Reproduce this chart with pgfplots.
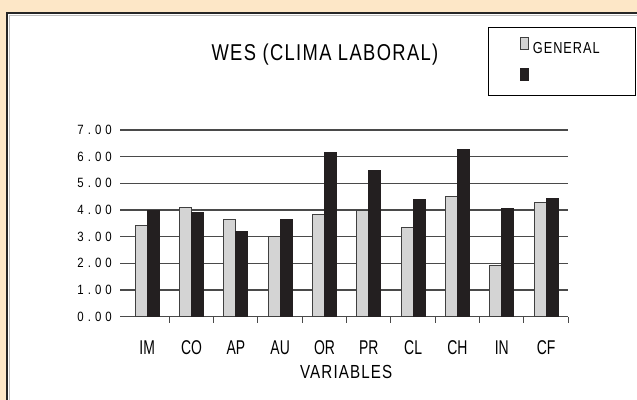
\documentclass[border=0pt]{standalone}
\usepackage{fontspec}
\setmainfont{Liberation Sans}
\newfontfamily\condfont[FakeStretch=0.7]{Liberation Sans}
\newfontfamily\titlefont[FakeStretch=0.8,LetterSpace=6]{Liberation Sans}
\newfontfamily\yfont[FakeStretch=0.85,LetterSpace=30]{Liberation Sans}
\usepackage{pgfplots}
\pgfplotsset{compat=1.18}
\definecolor{peach}{HTML}{FDE7C7}
\definecolor{barlight}{HTML}{D4D4D4}
\definecolor{bardark}{HTML}{231F20}
\definecolor{gridc}{HTML}{4A4A4A}
\begin{document}
\begin{tikzpicture}
\useasboundingbox (0,0) rectangle (637bp,-400bp);
\fill[peach] (0,0) rectangle (637bp,-400bp);
\fill[white] (7bp,-13bp) rectangle (640bp,-403bp);
\draw[line width=2bp, black!85] (7bp,-403bp) -- (7bp,-13bp) -- (640bp,-13bp);
\draw[gray!50, line width=0.8bp] (9.5bp,-403bp) -- (9.5bp,-15.5bp) -- (640bp,-15.5bp);
\begin{axis}[
  at={(125bp,-316.7bp)}, anchor=south west,
  scale only axis, width=443.3bp, height=186.7bp,
  xmin=-0.5, xmax=9.5, ymin=0, ymax=7,
  ybar, bar width=12bp,
  axis x line*=bottom, axis y line*=left,
  y axis line style={draw=none},
  x axis line style={gridc, line width=1.2bp},
  xtick={0,...,9},
  xticklabels={IM,CO,AP,AU,OR,PR,CL,CH,IN,CF},
  major x tick style={draw=none},
  minor xtick={0.5,1.5,...,9.5},
  minor x tick style={gridc, line width=1bp},
  minor tick length=6bp,
  tick align=outside,
  major tick length=5bp,
  ytick={0,...,7},
  ymajorgrids,
  major grid style={gridc, line width=1.3bp},
  major y tick style={gridc, line width=1.3bp},
  xticklabel style={font=\condfont\fontsize{20}{20}\selectfont, anchor=center, yshift=-26bp},
  yticklabel style={font=\yfont\fontsize{13.5}{13.5}\selectfont, anchor=east, inner sep=0pt, xshift=-8bp},
  /pgf/number format/.cd, fixed, precision=2, zerofill, assume math mode=true,
  /pgfplots/.cd,
  title={WES (CLIMA LABORAL)},
  title style={font=\titlefont\fontsize{23}{23}\selectfont, at={(0.451,1.418)}, anchor=center, yshift=-9bp},
  xlabel={VARIABLES},
  xlabel style={font=\titlefont\fontsize{19}{19}\selectfont, at={(0.499,-0.296)}, anchor=center},
  legend style={at={(0.819,1.552)}, anchor=north west, draw=black, line width=1bp, fill=white,
    inner xsep=12bp, inner ysep=10bp, row sep=13bp, column sep=4bp,
    font=\titlefont\fontsize{16}{16}\selectfont,
    nodes={inner sep=0pt},
    /tikz/every even column/.append style={text width=91bp, text height=11bp, text depth=3bp}},
  legend cell align=left,
  legend image code/.code={\path[draw=none,fill=none] (0bp,0bp) -- (28bp,0bp); \draw[#1, line width=0.8bp] (20bp,-1bp) rectangle (28bp,11bp);},
]
\addplot[fill=barlight, draw=black!75, line width=0.8bp, bar shift=-6bp] coordinates {
 (0,3.43) (1,4.10) (2,3.63) (3,3.00) (4,3.83) (5,3.98) (6,3.34) (7,4.51) (8,1.93) (9,4.28)};
\addplot[fill=bardark, draw=bardark, line width=0.8bp, bar shift=6bp] coordinates {
 (0,3.98) (1,3.91) (2,3.18) (3,3.66) (4,6.16) (5,5.48) (6,4.40) (7,6.27) (8,4.05) (9,4.45)};
\legend{GENERAL,\mbox{}}
\end{axis}
\end{tikzpicture}
\end{document}
